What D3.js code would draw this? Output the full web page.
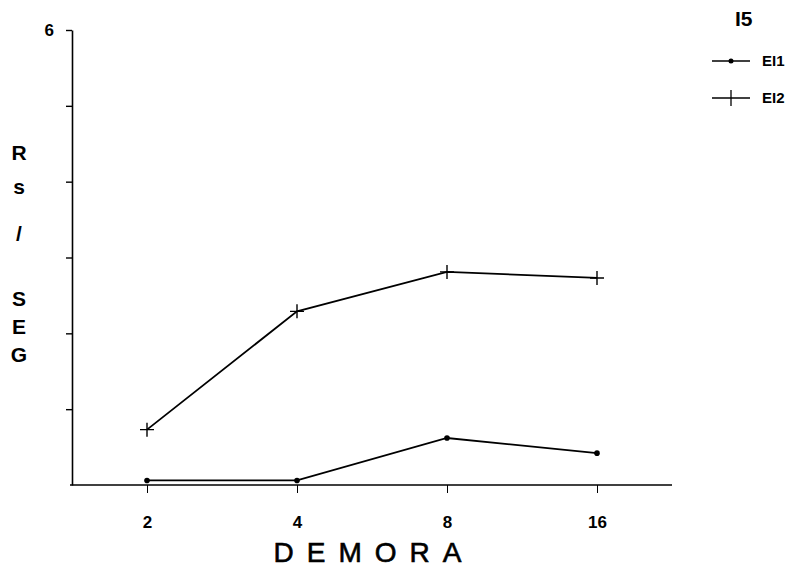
<!DOCTYPE html>
<html>
<head>
<meta charset="utf-8">
<script src="https://cdn.jsdelivr.net/npm/d3@7"></script>
<style>
  body { margin: 0; background: #fff; }
  svg { display: block; font-family: "Liberation Sans", Arial, sans-serif; }
</style>
</head>
<body>
<svg id="canvas"></svg>
<script>
// data
const demora = [2, 4, 8, 16];
const ei1 = [0.06, 0.06, 0.62, 0.42];
const ei2 = [0.73, 2.29, 2.81, 2.73];
const yTicks = [1, 2, 3, 4, 5, 6];
const yLabelLetters = ["R", "s", "/", "S", "E", "G"];

const width = 803;
const height = 570;

const canvas = d3.select('#canvas')
    .attr('width', width)
    .attr('height', height);

const xScale = d3.scaleLog().base(2)
    .domain([2, 16])
    .range([147, 597]);

const yScale = d3.scaleLinear()
    .domain([0, 6])
    .range([485, 30]);

// axes
const xAxis = d3.axisBottom(xScale)
    .tickValues(demora)
    .tickFormat(d3.format('d'))
    .tickSize(8)
    .tickSizeOuter(0)
    .tickPadding(23);

const gx = canvas.append('g')
    .attr('transform', 'translate(0,' + yScale(0) + ')')
    .call(xAxis);
gx.select('.domain').remove();
gx.append('line')
    .attr('x1', 70).attr('x2', 672)
    .attr('y1', 0).attr('y2', 0)
    .attr('stroke', '#000').attr('stroke-width', 1.6);
gx.selectAll('.tick line').attr('stroke-width', 1);
gx.selectAll('.tick text')
    .attr('font-size', 17)
    .attr('font-weight', 'bold')
    .attr('fill', '#000')
    .attr('font-family', '"Liberation Sans", Arial, sans-serif');

const yAxis = d3.axisLeft(yScale)
    .tickValues(yTicks)
    .tickFormat(d => d === 6 ? '6' : '')
    .tickSize(6)
    .tickSizeOuter(0)
    .tickPadding(12);

const gy = canvas.append('g')
    .attr('transform', 'translate(72,0)')
    .call(yAxis);
gy.select('.domain').attr('stroke-width', 1.6);
gy.selectAll('.tick line').attr('stroke-width', 1.4);
gy.selectAll('.tick text')
    .attr('font-size', 17)
    .attr('font-weight', 'bold')
    .attr('fill', '#000')
    .attr('font-family', '"Liberation Sans", Arial, sans-serif');

// axis titles
const letterY = [160, 194, 241, 306, 334, 362];
canvas.append('g').selectAll('text')
    .data(yLabelLetters)
    .enter()
    .append('text')
    .attr('x', 19)
    .attr('y', (d, i) => letterY[i])
    .attr('text-anchor', 'middle')
    .attr('font-size', 21)
    .attr('font-weight', 'bold')
    .text(d => d);

canvas.append('text')
    .attr('x', 374)
    .attr('y', 562)
    .attr('text-anchor', 'middle')
    .attr('font-size', 28)
    .attr('letter-spacing', 13)
    .attr('stroke', '#000')
    .attr('stroke-width', 0.6)
    .text('DEMORA');

// series
const line = d3.line()
    .x(d => xScale(d[0]))
    .y(d => yScale(d[1]));

const s1 = demora.map((d, i) => [d, ei1[i]]);
const s2 = demora.map((d, i) => [d, ei2[i]]);

canvas.append('path')
    .datum(s1)
    .attr('d', line)
    .attr('fill', 'none')
    .attr('stroke', '#000')
    .attr('stroke-width', 1.8);

canvas.selectAll('.dot')
    .data(s1)
    .enter()
    .append('circle')
    .attr('class', 'dot')
    .attr('cx', d => xScale(d[0]))
    .attr('cy', d => yScale(d[1]))
    .attr('r', 2.8)
    .attr('fill', '#000');

canvas.append('path')
    .datum(s2)
    .attr('d', line)
    .attr('fill', 'none')
    .attr('stroke', '#000')
    .attr('stroke-width', 1.8);

const cross = 7;
canvas.selectAll('.cross')
    .data(s2)
    .enter()
    .append('path')
    .attr('class', 'cross')
    .attr('d', d => {
        const cx = xScale(d[0]), cy = yScale(d[1]);
        return 'M' + (cx - cross) + ',' + cy + 'H' + (cx + cross) +
               'M' + cx + ',' + (cy - cross) + 'V' + (cy + cross);
    })
    .attr('stroke', '#000')
    .attr('stroke-width', 1.4);

// legend
canvas.append('text')
    .attr('x', 735)
    .attr('y', 26)
    .attr('font-size', 21)
    .attr('font-weight', 'bold')
    .text('I5');

const legend = canvas.append('g');
legend.append('line')
    .attr('x1', 712).attr('x2', 750).attr('y1', 61).attr('y2', 61)
    .attr('stroke', '#000').attr('stroke-width', 1.5);
legend.append('circle')
    .attr('cx', 731).attr('cy', 61).attr('r', 2.5).attr('fill', '#000');
legend.append('text')
    .attr('x', 762).attr('y', 66)
    .attr('font-size', 15).attr('font-weight', 'bold')
    .text('EI1');

legend.append('line')
    .attr('x1', 712).attr('x2', 750).attr('y1', 98).attr('y2', 98)
    .attr('stroke', '#000').attr('stroke-width', 1.5);
legend.append('line')
    .attr('x1', 731).attr('x2', 731).attr('y1', 90).attr('y2', 106)
    .attr('stroke', '#000').attr('stroke-width', 1.3);
legend.append('text')
    .attr('x', 762).attr('y', 103)
    .attr('font-size', 15).attr('font-weight', 'bold')
    .text('EI2');
</script>
</body>
</html>
